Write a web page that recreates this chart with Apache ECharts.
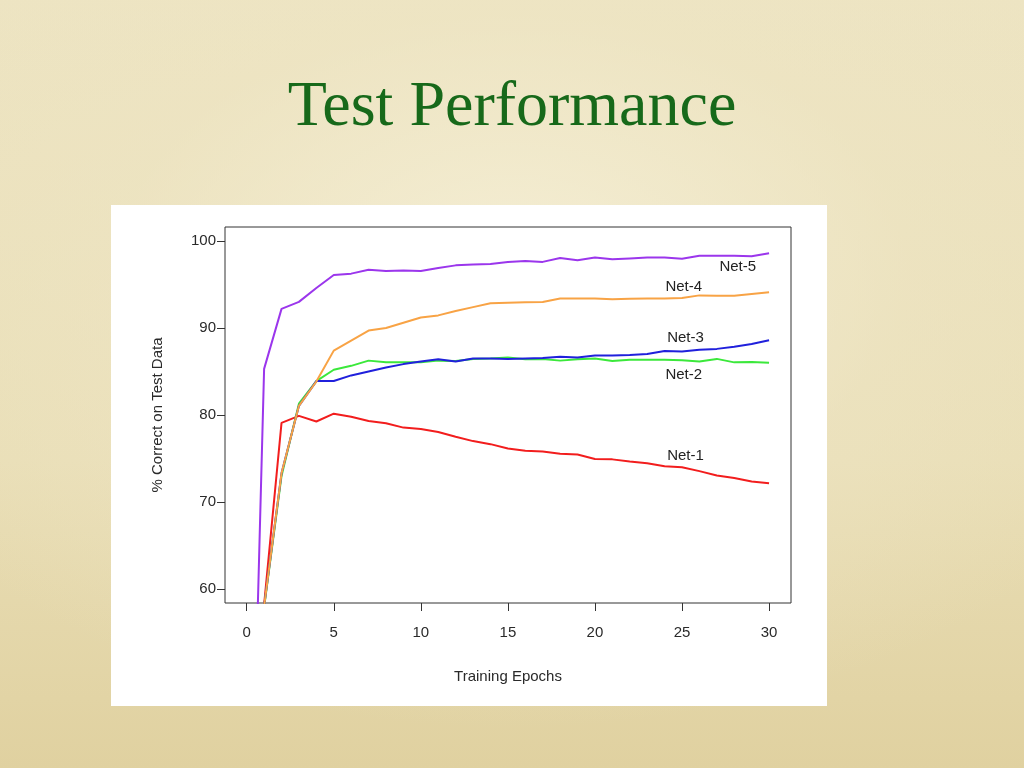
<!DOCTYPE html>
<html>
<head>
<meta charset="utf-8">
<script src="https://cdn.jsdelivr.net/npm/echarts@6/dist/echarts.min.js"></script>
<style>
  html, body { margin: 0; padding: 0; width: 1024px; height: 768px; overflow: hidden; }
  body {
    background:
      radial-gradient(ellipse 70% 60% at 50% 35%, rgba(246,240,216,0.85) 0%, rgba(238,229,196,0.5) 55%, rgba(220,205,155,0) 100%),
      linear-gradient(180deg, #ede4c2 0%, #e9deb6 60%, #e0d1a0 100%);
  }
  #chart { width: 1024px; height: 768px; }
</style>
</head>
<body>
<div id="chart"></div>
<script>
// ---- data ----
const epochs = [0,1,2,3,4,5,6,7,8,9,10,11,12,13,14,15,16,17,18,19,20,21,22,23,24,25,26,27,28,29,30];
const net1 = [10, 58.2, 79.1, 79.9, 79.25, 80.15, 79.8, 79.3, 79.05, 78.55, 78.4, 78.05, 77.5, 77.0, 76.65, 76.15, 75.9, 75.8, 75.55, 75.45, 74.95, 74.9, 74.65, 74.45, 74.1, 74.0, 73.55, 73.05, 72.75, 72.35, 72.15];
const net2 = [10, 57.9, 73.0, 81.3, 83.9, 85.2, 85.65, 86.25, 86.05, 86.05, 86.05, 86.25, 86.2, 86.45, 86.5, 86.6, 86.4, 86.45, 86.25, 86.4, 86.5, 86.2, 86.35, 86.35, 86.35, 86.3, 86.15, 86.45, 86.05, 86.1, 86.0];
const net3 = [10, 58.0, 73.3, 81.05, 83.9, 83.9, 84.55, 85.0, 85.45, 85.85, 86.15, 86.4, 86.15, 86.5, 86.5, 86.45, 86.5, 86.55, 86.7, 86.6, 86.85, 86.85, 86.9, 87.0, 87.35, 87.3, 87.5, 87.6, 87.85, 88.15, 88.6];
const net4 = [10, 58.0, 73.3, 81.05, 83.85, 87.4, 88.55, 89.7, 90.0, 90.6, 91.2, 91.45, 91.95, 92.4, 92.85, 92.9, 92.95, 93.0, 93.4, 93.4, 93.4, 93.3, 93.35, 93.4, 93.4, 93.45, 93.75, 93.7, 93.7, 93.9, 94.1];
const net5 = [10, 85.3, 92.2, 93.0, 94.6, 96.1, 96.25, 96.7, 96.55, 96.6, 96.55, 96.9, 97.2, 97.3, 97.35, 97.6, 97.7, 97.6, 98.05, 97.8, 98.1, 97.9, 98.0, 98.1, 98.1, 97.95, 98.3, 98.3, 98.3, 98.25, 98.6];
const seriesNames = ['Net-1', 'Net-2', 'Net-3', 'Net-4', 'Net-5'];
const labelAnchors = [[25.2, 75.3], [25.1, 84.6], [25.2, 88.85], [25.1, 94.7], [28.2, 97.0]];
const xTicks = [0, 5, 10, 15, 20, 25, 30];
const yTicks = [60, 70, 80, 90, 100];
const titleText = 'Test Performance';
const xTitle = 'Training Epochs';
const yTitle = '% Correct on Test Data';

const colors = ['#f21d1d', '#3be83b', '#2020dc', '#f8a345', '#9b36ec'];
const allValues = [net1, net2, net3, net4, net5];
const font = 'Liberation Sans, Arial, sans-serif';

const chart = echarts.init(document.getElementById('chart'), null, { renderer: 'canvas' });

const series = allValues.map((vals, i) => ({
  name: seriesNames[i],
  type: 'line',
  data: epochs.map((e, k) => [e, vals[k]]),
  showSymbol: false,
  symbol: 'none',
  lineStyle: { color: colors[i], width: 2 },
  itemStyle: { color: colors[i] },
  clip: true,
  z: 3,
  markPoint: {
    symbol: 'circle',
    symbolSize: 0,
    silent: true,
    label: {
      show: true,
      position: 'inside',
      formatter: seriesNames[i],
      color: '#222',
      fontFamily: font,
      fontSize: 15
    },
    data: [{ coord: labelAnchors[i] }]
  }
}));

chart.setOption({
  animation: false,
  backgroundColor: 'transparent',
  title: {
    text: titleText,
    left: 'center',
    top: 71,
    textStyle: {
      fontFamily: 'Liberation Serif, DejaVu Serif, serif',
      fontSize: 64,
      fontWeight: 'normal',
      color: '#17691a'
    }
  },
  graphic: [{
    type: 'rect',
    shape: { x: 111, y: 205, width: 716, height: 501 },
    style: { fill: '#ffffff' },
    z: -10,
    silent: true
  }],
  grid: {
    left: 225, top: 227, width: 566, height: 376,
    show: true, borderColor: '#333', borderWidth: 1, backgroundColor: 'transparent'
  },
  xAxis: {
    type: 'value',
    min: -1.246, max: 31.26,
    name: xTitle,
    nameLocation: 'middle',
    nameGap: 66,
    nameTextStyle: { fontFamily: font, fontSize: 15, color: '#2a2a2a' },
    axisLine: { show: false, onZero: false },
    splitLine: { show: false },
    axisTick: { show: true, length: 8, customValues: xTicks, lineStyle: { color: '#333' } },
    axisLabel: { customValues: xTicks, margin: 22, fontFamily: font, fontSize: 15, color: '#2a2a2a' }
  },
  yAxis: {
    type: 'value',
    min: 58.39, max: 101.61,
    name: yTitle,
    nameLocation: 'middle',
    nameGap: 60,
    nameTextStyle: { fontFamily: font, fontSize: 15, color: '#2a2a2a' },
    axisLine: { show: false, onZero: false },
    splitLine: { show: false },
    axisTick: { show: true, length: 8, customValues: yTicks, lineStyle: { color: '#333' } },
    axisLabel: { customValues: yTicks, margin: 9, fontFamily: font, fontSize: 15, color: '#2a2a2a' }
  },
  series: series
});
</script>
</body>
</html>
